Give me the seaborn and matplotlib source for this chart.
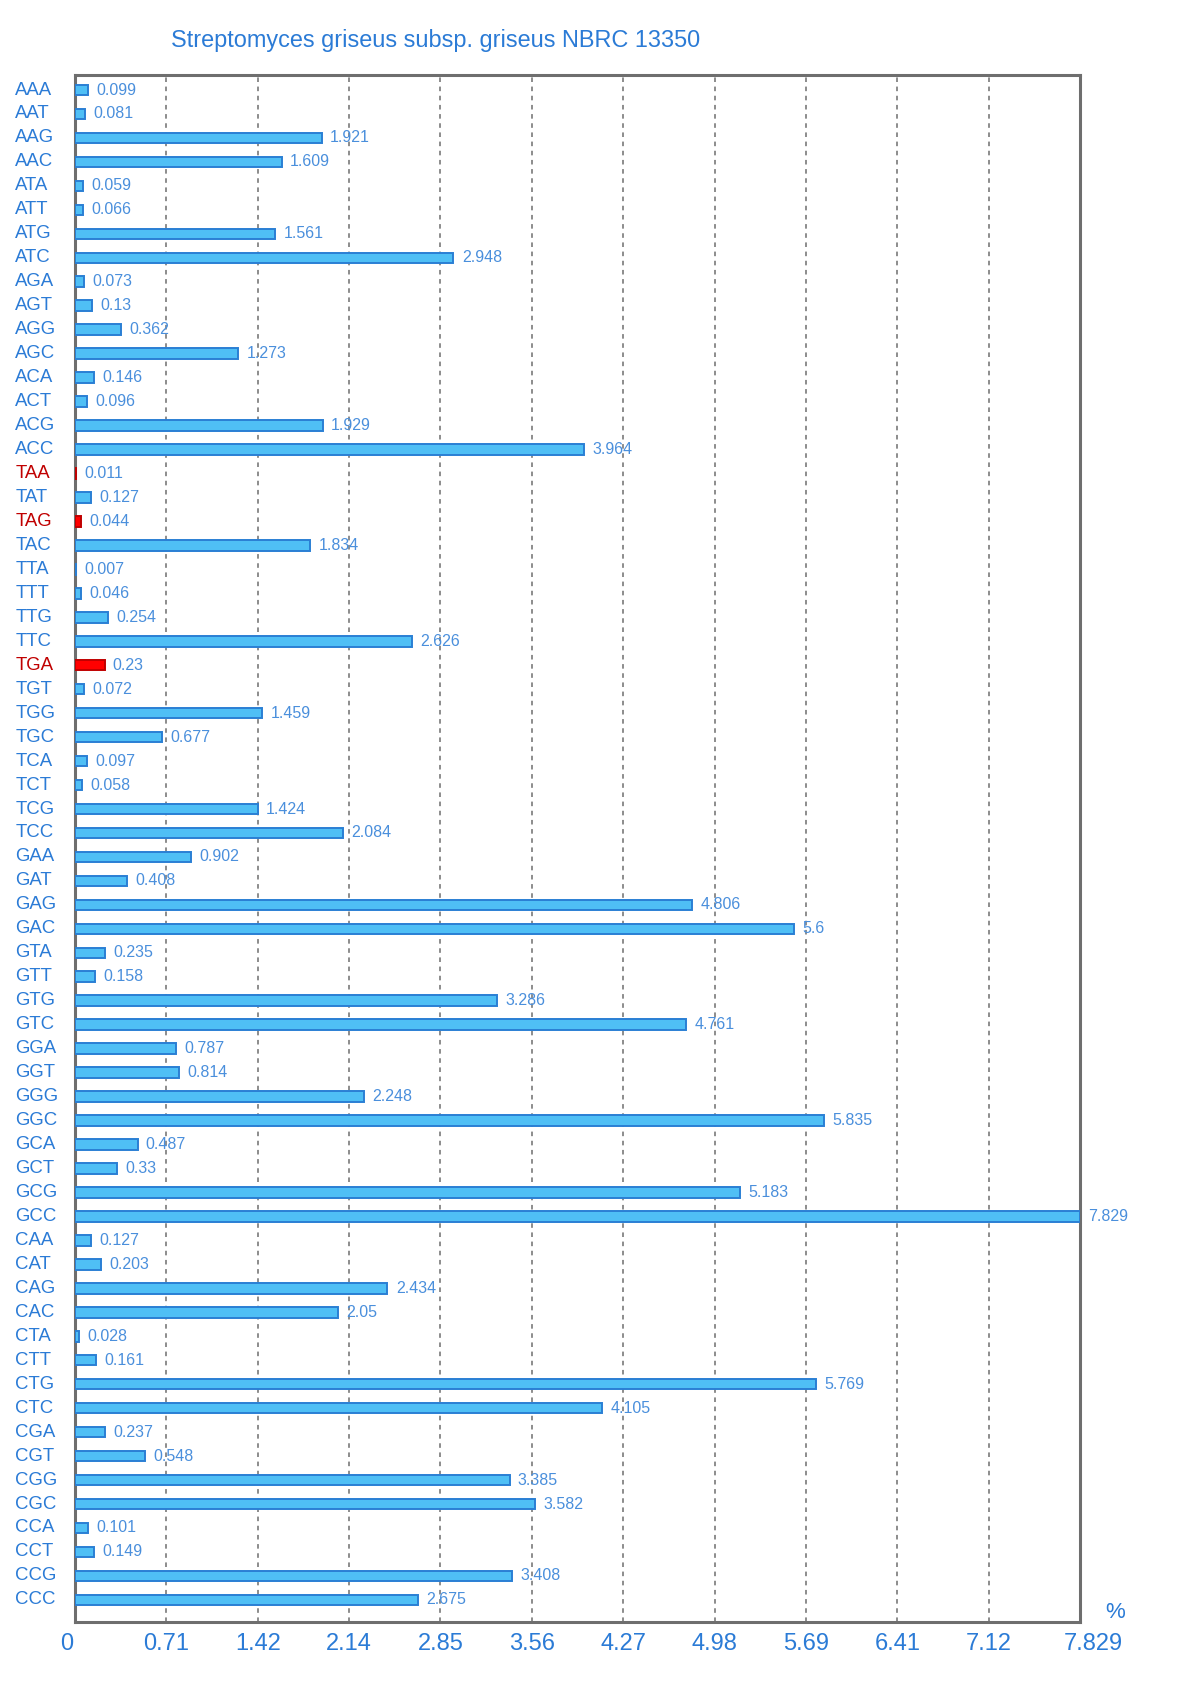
import matplotlib
matplotlib.use("Agg")
import matplotlib.pyplot as plt
import matplotlib.transforms as mtransforms
import seaborn as sns
import pandas as pd
import numpy as np

codons = ['AAA', 'AAT', 'AAG', 'AAC', 'ATA', 'ATT', 'ATG', 'ATC',
          'AGA', 'AGT', 'AGG', 'AGC', 'ACA', 'ACT', 'ACG', 'ACC',
          'TAA', 'TAT', 'TAG', 'TAC', 'TTA', 'TTT', 'TTG', 'TTC',
          'TGA', 'TGT', 'TGG', 'TGC', 'TCA', 'TCT', 'TCG', 'TCC',
          'GAA', 'GAT', 'GAG', 'GAC', 'GTA', 'GTT', 'GTG', 'GTC',
          'GGA', 'GGT', 'GGG', 'GGC', 'GCA', 'GCT', 'GCG', 'GCC',
          'CAA', 'CAT', 'CAG', 'CAC', 'CTA', 'CTT', 'CTG', 'CTC',
          'CGA', 'CGT', 'CGG', 'CGC', 'CCA', 'CCT', 'CCG', 'CCC']
values = [0.099, 0.081, 1.921, 1.609, 0.059, 0.066, 1.561, 2.948,
          0.073, 0.13, 0.362, 1.273, 0.146, 0.096, 1.929, 3.964,
          0.011, 0.127, 0.044, 1.834, 0.007, 0.046, 0.254, 2.626,
          0.23, 0.072, 1.459, 0.677, 0.097, 0.058, 1.424, 2.084,
          0.902, 0.408, 4.806, 5.6, 0.235, 0.158, 3.286, 4.761,
          0.787, 0.814, 2.248, 5.835, 0.487, 0.33, 5.183, 7.829,
          0.127, 0.203, 2.434, 2.05, 0.028, 0.161, 5.769, 4.105,
          0.237, 0.548, 3.385, 3.582, 0.101, 0.149, 3.408, 2.675]
stop_codons = ['TAA', 'TAG', 'TGA']
tick_labels = ['0', '0.71', '1.42', '2.14', '2.85', '3.56', '4.27',
               '4.98', '5.69', '6.41', '7.12', '7.829']
title = 'Streptomyces griseus subsp. griseus NBRC 13350'

BLUE = '#2b7bd6'
LIGHT_BLUE = '#4a8fdc'
RED = '#c00000'
GRAY = '#6e6e6e'

df = pd.DataFrame({'codon': codons, 'value': values})
df['kind'] = np.where(df['codon'].isin(stop_codons), 'stop', 'sense')

sns.set_style('white')
plt.rcParams['font.family'] = ['Liberation Sans', 'DejaVu Sans']

fig = plt.figure(figsize=(12, 16.98), dpi=100)
ax = fig.add_axes([0.0625, 0.0448, 0.8375, 0.9110])

ax = sns.barplot(data=df, y='codon', x='value', hue='kind', orient='h',
                 palette={'sense': '#4fbff5', 'stop': '#ff0000'},
                 saturation=1, dodge=False, width=0.44, legend=False, ax=ax)

# edge colours per bar, drawn above the left spine
for patch, codon in zip(sorted(ax.patches, key=lambda p: p.get_y()), codons):
    stop = codon in stop_codons
    patch.set_edgecolor(RED if stop else '#2a7fd4')
    patch.set_linewidth(1.4)
    patch.set_zorder(3)

for cont in ax.containers:
    kind = cont.get_label()
    labs = [f'{v:g}' for v in cont.datavalues]
    ax.bar_label(cont, labels=labs, padding=6, fontsize=11.5,
                 color=RED if kind == 'stop' else LIGHT_BLUE)

xmax = max(values)
ax.set_xlim(0, xmax)
ax.set_ylim(len(codons) - 1 + 0.92, -0.625)
ax.set_xticks([xmax * i / 11 for i in range(12)], labels=tick_labels)
ax.set_yticks(range(len(codons)), labels=codons)
ax.set(xlabel='', ylabel='')

ax.tick_params(axis='x', length=0, pad=8, labelsize=17, labelcolor=BLUE)
ax.tick_params(axis='y', length=0, pad=43, labelsize=13.4)
for lab in ax.get_yticklabels():
    lab.set_horizontalalignment('left')
    lab.set_verticalalignment('center')
    lab.set_color(RED if lab.get_text() in stop_codons else BLUE)

xlabs = ax.get_xticklabels()
xlabs[0].set_transform(xlabs[0].get_transform() +
                       mtransforms.ScaledTranslation(-0.08, 0, fig.dpi_scale_trans))
xlabs[-1].set_transform(xlabs[-1].get_transform() +
                        mtransforms.ScaledTranslation(0.13, 0, fig.dpi_scale_trans))

ax.set_axisbelow(True)
ax.grid(axis='x', color=GRAY, linestyle=(0, (3, 3)), linewidth=1.1)
ax.grid(axis='y', visible=False)
for sp in ax.spines.values():
    sp.set_visible(True)
    sp.set_color(GRAY)
    sp.set_linewidth(2.2)

fig.text(436 / 1200, 1 - 41 / 1698, title, ha='center', va='center',
         fontsize=16.9, color=BLUE)
fig.text(1115 / 1200, 1 - 1613 / 1698, '%', ha='center', va='center',
         fontsize=16, color=BLUE)

fig.savefig('out.png', dpi=100)
